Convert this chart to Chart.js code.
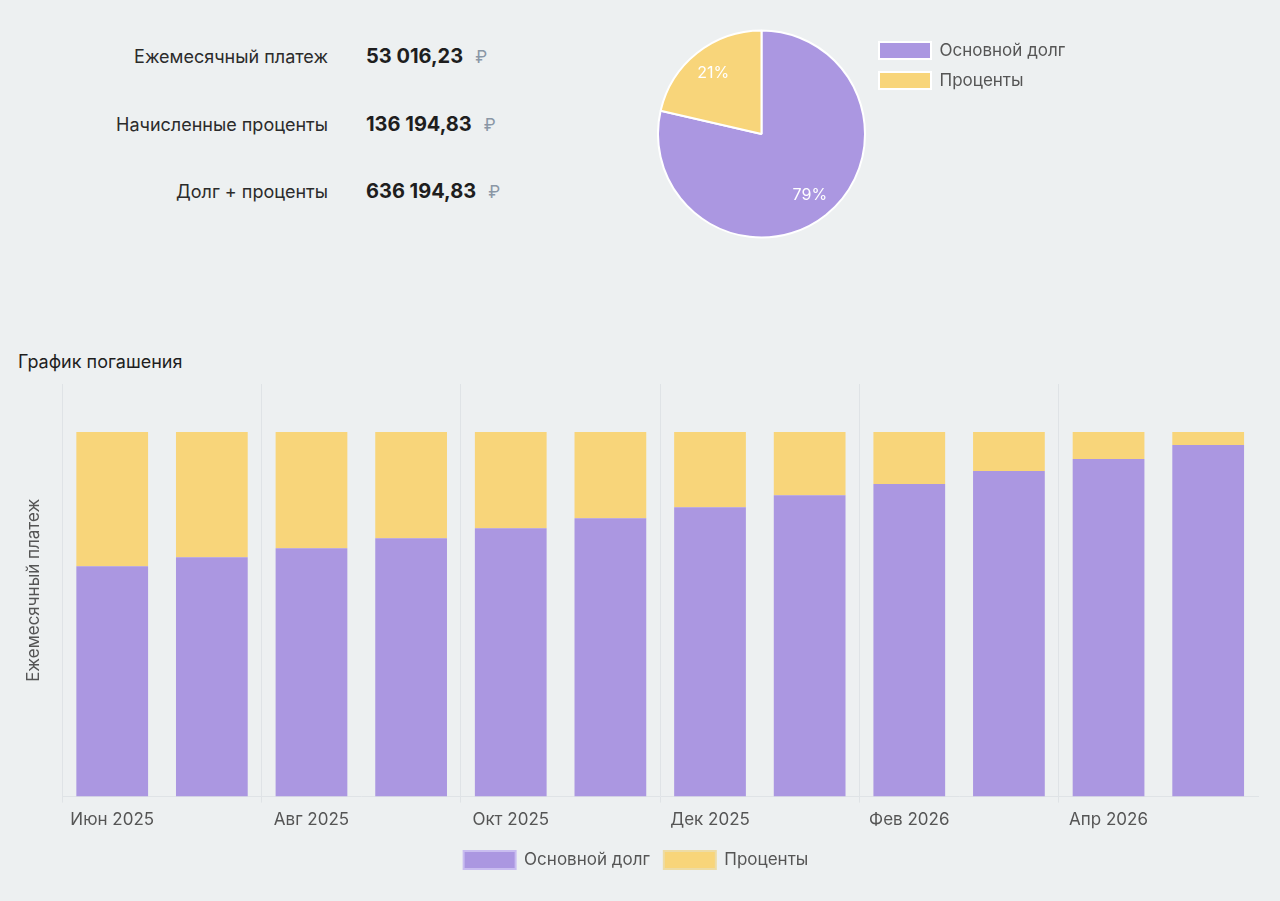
<!DOCTYPE html>
<html lang="ru">
<head>
<meta charset="UTF-8">
<title>Кредитный калькулятор</title>
<script src="https://cdn.jsdelivr.net/npm/chart.js@4"></script>
<style>
  html, body { margin: 0; padding: 0; }
  body { width: 1280px; height: 901px; background: #edf0f1; font-family: Inter, "Noto Sans", sans-serif; position: relative; overflow: hidden; }
  .summary { position: absolute; left: 0; top: 39px; width: 560px; }
  .row { position: relative; height: 67.5px; }
  .row .lbl { position: absolute; right: 232px; top: 7px; font-size: 18px; color: #2b2b2b; }
  .row .val { position: absolute; left: 366px; top: 5px; font-size: 20px; font-weight: 700; color: #1e1e1e; }
  .row .val span { font-weight: 400; font-size: 17px; color: #8a97a6; margin-left: 12px; }
  #pieBox { position: absolute; left: 657px; top: 29px; width: 418px; height: 210px; }
  .title { position: absolute; left: 18px; top: 351px; font-size: 18px; color: #1e1e1e; }
  #barBox { position: absolute; left: 14px; top: 376px; width: 1250px; height: 503px; }
</style>
</head>
<body>
  <div class="summary">
    <div class="row"><div class="lbl">Ежемесячный платеж</div><div class="val" id="v1"></div></div>
    <div class="row"><div class="lbl">Начисленные проценты</div><div class="val" id="v2"></div></div>
    <div class="row"><div class="lbl">Долг + проценты</div><div class="val" id="v3"></div></div>
  </div>
  <div id="pieBox"><canvas id="pieChart"></canvas></div>
  <div class="title">График погашения</div>
  <div id="barBox"><canvas id="barChart"></canvas></div>

<script>
// summary values
const monthlyPayment = '53 016,23';
const accruedInterest = '136 194,83';
const debtPlusInterest = '636 194,83';

// pie
const pieLabels = ['Основной долг', 'Проценты'];
const pieValues = [500000, 136194.83];

// schedule
const months = ['Июн 2025', 'Июл 2025', 'Авг 2025', 'Сен 2025', 'Окт 2025', 'Ноя 2025',
                'Дек 2025', 'Янв 2026', 'Фев 2026', 'Мар 2026', 'Апр 2026', 'Май 2026'];
const principal = [33500, 34810, 36120, 37580, 39030, 40490, 42090, 43840, 45440, 47340, 49080, 51120];
const interest  = [19516, 18206, 16896, 15436, 13986, 12526, 10926, 9176, 7576, 5676, 3936, 1896];

const purple = '#ab97e1';
const yellow = '#f8d57a';

document.getElementById('v1').innerHTML = monthlyPayment + '<span>₽</span>';
document.getElementById('v2').innerHTML = accruedInterest + '<span>₽</span>';
document.getElementById('v3').innerHTML = debtPlusInterest + '<span>₽</span>';

Chart.defaults.font.family = 'Inter, "Noto Sans", sans-serif';
Chart.defaults.animation = false;

// draws the percent text inside each slice
const pctLabels = {
  id: 'pctLabels',
  afterDatasetsDraw(chart) {
    const ctx = chart.ctx;
    const meta = chart.getDatasetMeta(0);
    const data = chart.data.datasets[0].data;
    const total = data.reduce((a, b) => a + b, 0);
    ctx.save();
    ctx.fillStyle = '#ffffff';
    ctx.font = '16px Inter, "Noto Sans", sans-serif';
    ctx.textAlign = 'center';
    ctx.textBaseline = 'middle';
    meta.data.forEach((arc, i) => {
      const p = arc.getProps(['x', 'y', 'startAngle', 'endAngle', 'outerRadius']);
      const mid = (p.startAngle + p.endAngle) / 2;
      const r = p.outerRadius * 0.75;
      ctx.fillText(Math.round(data[i] / total * 100) + '%', p.x + Math.cos(mid) * r, p.y + Math.sin(mid) * r);
    });
    ctx.restore();
  }
};

new Chart(document.getElementById('pieChart'), {
  type: 'pie',
  data: {
    labels: pieLabels,
    datasets: [{ data: pieValues, backgroundColor: [purple, yellow], borderColor: '#ffffff', borderWidth: 2 }]
  },
  options: {
    responsive: true,
    maintainAspectRatio: false,
    layout: { padding: { top: 0 } },
    plugins: {
      legend: {
        position: 'right',
        align: 'start',
        labels: { boxWidth: 52, boxHeight: 17, padding: 13, color: '#555', font: { size: 17 } }
      },
      tooltip: { enabled: false }
    }
  },
  plugins: [pctLabels]
});

// only every other month gets a label and a grid line
const everyOther = (c) => (c.index % 2 === 0 ? '#dfe3e6' : 'transparent');

new Chart(document.getElementById('barChart'), {
  type: 'bar',
  data: {
    labels: months,
    datasets: [
      { label: 'Основной долг', data: principal, backgroundColor: purple, borderColor: '#c9bdf0', borderWidth: 0 },
      { label: 'Проценты', data: interest, backgroundColor: yellow, borderColor: '#eddca6', borderWidth: 0 }
    ]
  },
  options: {
    responsive: true,
    maintainAspectRatio: false,
    layout: { padding: { top: 8, right: 6 } },
    scales: {
      x: {
        stacked: true,
        grid: { color: everyOther, offset: true, tickLength: 6 },
        border: { color: '#dfe3e6' },
        ticks: {
          autoSkip: false,
          maxRotation: 0,
          color: '#555',
          font: { size: 17 },
          padding: 7,
          callback: (v, i) => (i % 2 === 0 ? months[i] : '')
        }
      },
      y: {
        stacked: true,
        min: 0,
        max: 60000,
        grid: { display: false },
        border: { display: false },
        ticks: { display: false },
        title: { display: true, text: 'Ежемесячный платеж', color: '#555', font: { size: 17 }, padding: { top: 10, bottom: 10 } }
      }
    },
    plugins: {
      legend: {
        position: 'bottom',
        labels: {
          boxWidth: 52, boxHeight: 18, padding: 14, color: '#555', font: { size: 17 },
          generateLabels: (chart) => chart.data.datasets.map((ds, i) => ({
            text: ds.label, fillStyle: ds.backgroundColor, strokeStyle: ds.borderColor,
            lineWidth: 2, fontColor: '#555', datasetIndex: i, hidden: false
          }))
        }
      },
      tooltip: { enabled: false }
    }
  }
});
</script>
</body>
</html>
